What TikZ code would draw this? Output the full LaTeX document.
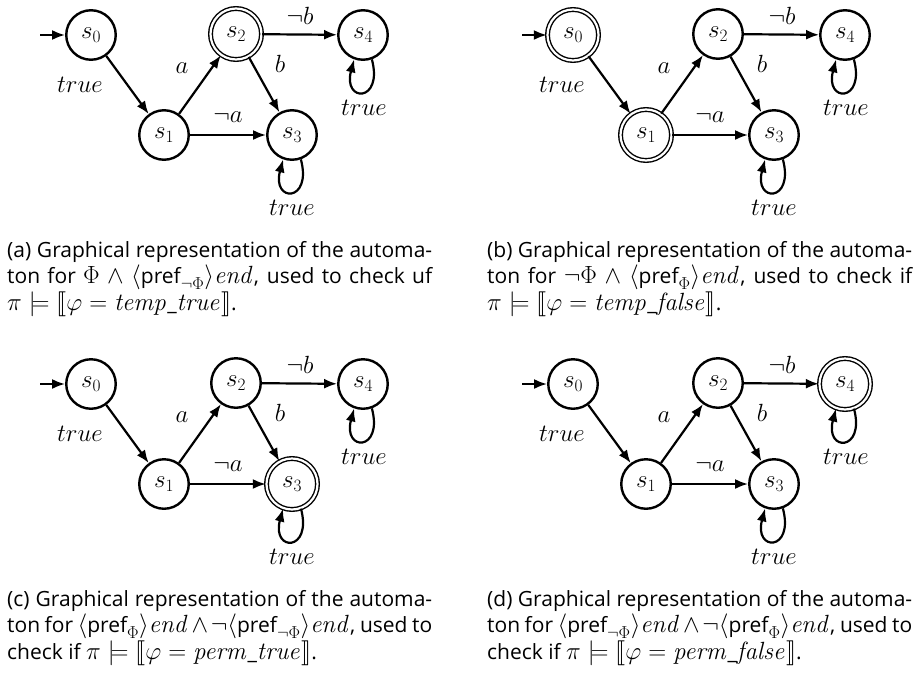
\documentclass[tikz,border=0pt]{standalone}
\usepackage{amsmath}
\usepackage{stmaryrd}
\usepackage[no-math]{fontspec}
\newfontfamily\capfont{Open Sans}
\DeclareMathSizes{21}{24.88}{17.28}{12}
\usetikzlibrary{arrows.meta}
\tikzset{
  x=1pt, y=-1pt,
  lblfont/.style={font=\fontsize{24}{28}\selectfont},
  st/.style={circle, draw, line width=2.4pt, minimum size=49.5pt, inner sep=0pt, lblfont},
  acc/.style={circle, draw, double, line width=1.4pt, double distance=2.2pt, minimum size=51pt, inner sep=0pt, lblfont},
  tr/.style={-{Latex[length=13pt,width=10pt]}, line width=2.2pt},
  elabel/.style={inner sep=0pt, font=\fontsize{23}{27}\selectfont},
  captext/.style={anchor=base west, align=justify, text width=425pt, inner sep=0pt, font=\capfont\fontsize{21}{26.5}\selectfont}
}
\newcommand\drawaut[7]{%
\begin{scope}[shift={#2}]
  \node[#3] (#1s0) at (91,35) {$s_0$};
  \node[#4] (#1s1) at (164,135) {$s_1$};
  \node[#5] (#1s2) at (236,34) {$s_2$};
  \node[#6] (#1s3) at (292,135) {$s_3$};
  \node[#7] (#1s4) at (363,35) {$s_4$};
  \coordinate (#1init) at (40,35);
  \draw[tr] (#1init) -- (#1s0);
  \draw[tr] (#1s0) -- (#1s1);
  \draw[tr] (#1s1) -- (#1s2);
  \draw[tr] (#1s1) -- (#1s3);
  \draw[tr] (#1s2) -- (#1s3);
  \draw[tr] (#1s2) -- (#1s4);
  \draw[tr] (#1s3.-70) .. controls +(75:45) and +(105:45) .. (#1s3.-110);
  \draw[tr] (#1s4.-70) .. controls +(75:45) and +(105:45) .. (#1s4.-110);
  \node[elabel] (#1l01) at (80,85) {$true$};
  \node[elabel] (#1l12) at (182,68) {$a$};
  \node[elabel] (#1l23) at (280,64) {$b$};
  \node[elabel] (#1l24) at (300,16) {$\neg b$};
  \node[elabel] (#1l13) at (228,117) {$\neg a$};
  \node[elabel] (#1l33) at (292,208) {$true$};
  \node[elabel] (#1l44) at (364,108) {$true$};
\end{scope}}
\begin{document}
\begin{tikzpicture}
\useasboundingbox (0,0) rectangle (915,683);
\drawaut{a}{(0,0)}{st}{st}{acc}{st}{st}
\drawaut{b}{(482,0)}{acc}{acc}{st}{st}{st}
\drawaut{c}{(0,349)}{st}{st}{st}{acc}{st}
\drawaut{d}{(482,349)}{st}{st}{st}{st}{acc}
\node[captext] (capa) at (7,257) {(a) Graphical representation of the automa-\linebreak
ton for $\Phi \wedge \langle\text{pref}_{\neg\Phi}\rangle \mathit{end}$, used to check uf\linebreak
$\pi \models \llbracket \varphi = \mathit{temp\_true} \rrbracket$.};
\node[captext] (capb) at (487,257) {(b) Graphical representation of the automa-\linebreak
ton for $\neg\Phi \wedge \langle\text{pref}_{\Phi}\rangle \mathit{end}$, used to check if\linebreak
$\pi \models \llbracket \varphi = \mathit{temp\_false} \rrbracket$.};
\node[captext] (capc) at (7,606) {(c) Graphical representation of the automa-\linebreak
ton for $\langle\text{pref}_{\Phi}\rangle \mathit{end} \wedge \neg\langle\text{pref}_{\neg\Phi}\rangle \mathit{end}$, used to\linebreak
check if $\pi \models \llbracket \varphi = \mathit{perm\_true} \rrbracket$.};
\node[captext] (capd) at (487,606) {(d) Graphical representation of the automa-\linebreak
ton for $\langle\text{pref}_{\neg\Phi}\rangle \mathit{end} \wedge \neg\langle\text{pref}_{\Phi}\rangle \mathit{end}$, used to\linebreak
check if $\pi \models \llbracket \varphi = \mathit{perm\_false} \rrbracket$.};
\end{tikzpicture}
\end{document}
